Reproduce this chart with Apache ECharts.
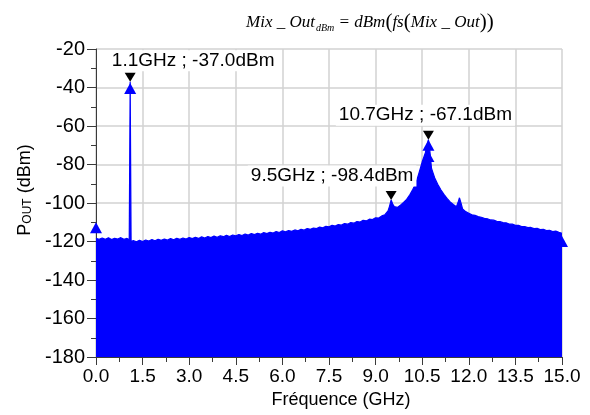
<!DOCTYPE html>
<html>
<head>
<meta charset="utf-8">
<script src="https://cdn.jsdelivr.net/npm/echarts@6/dist/echarts.min.js"></script>
<style>
  html, body { margin: 0; padding: 0; background: #ffffff; }
  #chart { width: 590px; height: 415px; }
</style>
</head>
<body>
<div id="chart"></div>
<script>
// Spectrum of the mixer output: frequency (GHz) and power (dBm)
const freqGHz = [
  0.0, 0.1, 0.2, 0.3, 0.4, 0.5, 0.6, 0.7, 0.8, 0.9,
  1.0, 1.07, 1.1, 1.13, 1.2, 1.3, 1.4, 1.5, 1.6, 1.7,
  1.8, 1.9, 2.0, 2.1, 2.2, 2.3, 2.4, 2.5, 2.6, 2.7,
  2.8, 2.9, 3.0, 3.1, 3.2, 3.3, 3.4, 3.5, 3.6, 3.7,
  3.8, 3.9, 4.0, 4.1, 4.2, 4.3, 4.4, 4.5, 4.6, 4.7,
  4.8, 4.9, 5.0, 5.1, 5.2, 5.3, 5.4, 5.5, 5.6, 5.7,
  5.8, 5.9, 6.0, 6.1, 6.2, 6.3, 6.4, 6.5, 6.6, 6.7,
  6.8, 6.9, 7.0, 7.1, 7.2, 7.3, 7.4, 7.5, 7.6, 7.7,
  7.8, 7.9, 8.0, 8.1, 8.2, 8.3, 8.4, 8.5, 8.6, 8.7,
  8.8, 8.9, 9.0, 9.1, 9.2, 9.3, 9.4, 9.45, 9.5, 9.55,
  9.6, 9.7, 9.8, 9.9, 10.0, 10.1, 10.2, 10.3, 10.4, 10.5,
  10.6, 10.65, 10.7, 10.75, 10.8, 10.9, 11.0, 11.1, 11.2, 11.3,
  11.4, 11.5, 11.6, 11.65, 11.7, 11.75, 11.8, 11.9, 12.0, 12.1,
  12.2, 12.3, 12.4, 12.5, 12.6, 12.7, 12.8, 12.9, 13.0, 13.1,
  13.2, 13.3, 13.4, 13.5, 13.6, 13.7, 13.8, 13.9, 14.0, 14.1,
  14.2, 14.3, 14.4, 14.5, 14.6, 14.7, 14.8, 14.9, 15.0
];
const powerDBm = [
  -118.3, -118.9, -118.2, -118.8, -118.1, -119.0, -118.3, -118.7, -118.0, -118.9,
  -118.4, -119.1, -37.0, -120.1, -119.5, -120.2, -119.4, -120.0, -119.2, -119.8,
  -119.0, -119.6, -118.8, -119.4, -118.7, -119.3, -118.5, -119.1, -118.3, -118.9,
  -118.2, -118.7, -117.9, -118.5, -117.8, -118.4, -117.6, -118.2, -117.4, -118.0,
  -117.2, -117.8, -117.0, -117.5, -116.8, -117.4, -116.6, -117.1, -116.4, -116.9,
  -116.1, -116.7, -115.9, -116.4, -115.7, -116.2, -115.4, -115.9, -115.2, -115.6,
  -114.8, -115.3, -114.5, -115.0, -114.3, -114.7, -114.0, -114.4, -113.7, -114.1,
  -113.3, -113.7, -113.0, -113.3, -112.5, -112.9, -112.1, -112.4, -111.6, -112.0,
  -111.2, -111.5, -110.7, -111.0, -110.2, -110.5, -109.6, -109.9, -109.0, -109.3,
  -108.4, -108.6, -107.7, -107.8, -106.7, -106.1, -104.1, -101.6, -98.4, -100.5,
  -101.9, -102.3, -101.1, -99.7, -98.1, -95.7, -92.9, -89.6, -84.3, -78.6,
  -74.0, -70.6, -67.1, -73.6, -82.1, -86.9, -90.3, -93.1, -95.5, -97.6,
  -99.4, -100.8, -102.0, -99.9, -97.3, -100.1, -103.1, -104.5, -105.3, -106.1,
  -106.4, -107.1, -107.4, -108.0, -108.2, -108.8, -108.9, -109.5, -109.6, -110.2,
  -110.3, -110.9, -111.0, -111.6, -111.6, -112.2, -112.2, -112.8, -112.7, -113.3,
  -113.2, -113.8, -113.7, -114.3, -114.2, -114.8, -114.6, -115.2, -115.7
];

// Trace symbols (blue triangles)
const symbolFreq = [0.0, 1.1, 10.7, 10.7, 15.0];
const symbolDBm = [-112.9, -40.5, -70.0, -75.9, -120.0];

// Readout markers
const markerFreq = [1.1, 9.5, 10.7];
const markerDBm = [-37.0, -98.4, -67.1];

// Axis ticks
const xTicks = [0.0, 1.5, 3.0, 4.5, 6.0, 7.5, 9.0, 10.5, 12.0, 13.5, 15.0];
const yTicks = [-180, -160, -140, -120, -100, -80, -60, -40, -20];

// Label placement for the marker readouts (pixels from the marker)
const markerLabelOffset = [[63, -16.5], [-59, -19.5], [-3, -20]];

const FONT = '"Liberation Sans", Arial, sans-serif';
const SERIF = '"Liberation Serif", "Times New Roman", serif';
const AXIS_COLOR = '#3a3a3a';
const GRID_COLOR = '#d2d2d2';
const TRACE_COLOR = '#0000ff';

const chart = echarts.init(document.getElementById('chart'), null, { renderer: 'canvas' });

const option = {
  backgroundColor: '#ffffff',
  animation: false,
  title: {
    left: 241,
    top: 7,
    text: '{i|Mix _ Out}{s|dBm}{i| = dBm}{p|(}{i|fs}{p|(}{i|Mix _ Out}{p|))}',
    textStyle: {
      fontWeight: 'normal',
      rich: {
        i: { fontFamily: SERIF, fontStyle: 'italic', fontWeight: 'normal', fontSize: 17, color: '#000' },
        s: { fontFamily: SERIF, fontStyle: 'italic', fontWeight: 'normal', fontSize: 10, color: '#000', verticalAlign: 'bottom', padding: [8, 0, 0, 1] },
        p: { fontFamily: SERIF, fontWeight: 'normal', fontSize: 21, color: '#000' }
      }
    }
  },
  grid: {
    left: 96,
    right: 28,
    top: 49,
    bottom: 58,
    containLabel: false,
    outerBoundsMode: 'none'
  },
  xAxis: {
    type: 'value',
    min: xTicks[0],
    max: xTicks[xTicks.length - 1],
    interval: xTicks[1] - xTicks[0],
    name: 'Fréquence (GHz)',
    nameLocation: 'middle',
    nameGap: 34,
    nameTextStyle: { fontFamily: FONT, fontSize: 18, color: '#000', padding: [0, 0, 0, 24] },
    axisLine: { show: true, onZero: false, lineStyle: { color: AXIS_COLOR, width: 1 } },
    axisTick: { show: true, inside: false, length: 8, lineStyle: { color: AXIS_COLOR } },
    minorTick: { show: true, splitNumber: 2, length: 5, lineStyle: { color: AXIS_COLOR } },
    axisLabel: {
      margin: 10,
      fontFamily: FONT,
      fontSize: 19,
      color: '#000',
      formatter: v => v.toFixed(1)
    },
    splitLine: { show: true, lineStyle: { color: GRID_COLOR, width: 1.5 } }
  },
  yAxis: {
    type: 'value',
    min: yTicks[0],
    max: yTicks[yTicks.length - 1],
    interval: yTicks[1] - yTicks[0],
    name: '{a|P}{b|OUT}{a| (dBm)}',
    nameLocation: 'middle',
    nameRotate: 90,
    nameGap: 56,
    nameTextStyle: {
      padding: [0, 0, 0, 26],
      rich: {
        a: { fontFamily: FONT, fontSize: 18, color: '#000' },
        b: { fontFamily: FONT, fontSize: 12, color: '#000', verticalAlign: 'bottom', padding: [6, 0, 0, 0] }
      }
    },
    axisLine: { show: true, onZero: false, lineStyle: { color: AXIS_COLOR, width: 1 } },
    axisTick: { show: true, inside: false, length: 9, lineStyle: { color: AXIS_COLOR } },
    minorTick: { show: true, splitNumber: 2, length: 5, lineStyle: { color: AXIS_COLOR } },
    axisLabel: {
      margin: 11,
      fontFamily: FONT,
      fontSize: 20,
      color: '#000'
    },
    splitLine: { show: true, lineStyle: { color: GRID_COLOR, width: 1.5 } }
  },
  series: [
    {
      name: 'Mix_Out',
      type: 'line',
      data: freqGHz.map((f, i) => [f, powerDBm[i]]),
      symbol: 'none',
      showSymbol: false,
      lineStyle: { color: TRACE_COLOR, width: 1.2 },
      areaStyle: { color: TRACE_COLOR, opacity: 1, origin: 'start' },
      z: 2
    },
    {
      name: 'trace symbols',
      type: 'scatter',
      data: symbolFreq.map((f, i) => [f, symbolDBm[i]]),
      symbol: 'triangle',
      symbolSize: [12, 11],
      itemStyle: { color: TRACE_COLOR, opacity: 1 },
      clip: false,
      z: 3
    },
    {
      name: 'markers',
      type: 'scatter',
      data: markerFreq.map((f, i) => ({
        value: [f, markerDBm[i]],
        label: { offset: markerLabelOffset[i] }
      })),
      symbol: 'path://M0,0L10,0L5,9Z',
      symbolSize: [11, 9],
      symbolOffset: [0, -4.5],
      itemStyle: { color: '#000000', opacity: 1 },
      clip: false,
      z: 4,
      label: {
        show: true,
        position: 'inside',
        fontFamily: FONT,
        fontSize: 19,
        color: '#000',
        backgroundColor: '#ffffff',
        padding: [1, 3, 1, 3],
        formatter: p => p.value[0].toFixed(1) + 'GHz ; ' + p.value[1].toFixed(1) + 'dBm'
      }
    }
  ]
};

chart.setOption(option);
</script>
</body>
</html>
